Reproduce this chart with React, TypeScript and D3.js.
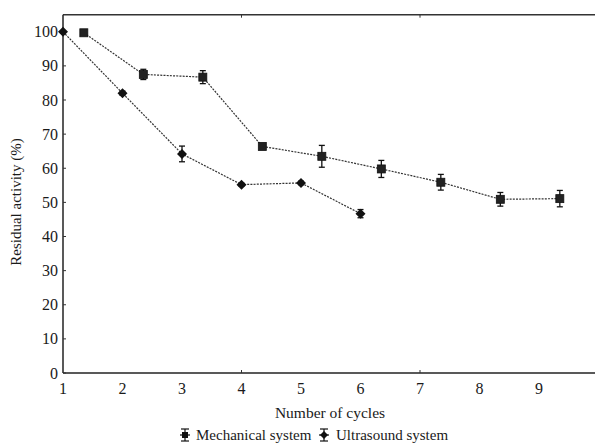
import React from "react";
import * as d3 from "d3";

const mechCycles = [1, 2, 3, 4, 5, 6, 7, 8, 9];
const mechValues = [99.7, 87.5, 86.7, 66.4, 63.5, 59.8, 55.9, 50.9, 51.1];
const mechErrors = [0.4, 1.5, 1.9, 0.6, 3.2, 2.5, 2.3, 2.0, 2.4];
const usCycles = [1, 2, 3, 4, 5, 6];
const usValues = [100, 82.0, 64.2, 55.2, 55.7, 46.7];
const usErrors = [0.3, 0.6, 2.3, 0.4, 0.5, 1.2];
const xTicks = [1, 2, 3, 4, 5, 6, 7, 8, 9];
const yTicks = [0, 10, 20, 30, 40, 50, 60, 70, 80, 90, 100];
const mechOffset = 0.35;

const W = 595;
const H = 444;
const FONT = "Liberation Serif, Times New Roman, Times, serif";

export default function App() {
  const x = d3.scaleLinear().domain([1, 10]).range([63, 598.5]);
  const y = d3.scaleLinear().domain([0, 105]).range([373, 14.7]);
  const line = d3
    .line<[number, number]>()
    .x((d) => x(d[0]))
    .y((d) => y(d[1]));

  const mech: [number, number][] = mechCycles.map((c, i) => [c + mechOffset, mechValues[i]]);
  const us: [number, number][] = usCycles.map((c, i) => [c, usValues[i]]);

  const errBar = (cx: number, v: number, e: number, key: string) => (
    <g key={key} stroke="#111" strokeWidth={1.3}>
      <line x1={x(cx)} x2={x(cx)} y1={y(v - e)} y2={y(v + e)} />
      <line x1={x(cx) - 3} x2={x(cx) + 3} y1={y(v - e)} y2={y(v - e)} />
      <line x1={x(cx) - 3} x2={x(cx) + 3} y1={y(v + e)} y2={y(v + e)} />
    </g>
  );

  const txt = { fontFamily: FONT, fill: "#1a1a1a" } as React.CSSProperties;

  return (
    <div style={{ position: "absolute", left: 0, top: 0 }}>
      <svg width={W} height={H} style={{ display: "block", background: "#fff", fontFamily: FONT }}>
        {/* axes */}
        <line x1={63} x2={W} y1={14.7} y2={14.7} stroke="#333" strokeWidth={1.5} />
        <line x1={63} x2={W} y1={373} y2={373} stroke="#222" strokeWidth={1.5} />
        <line x1={63} x2={63} y1={14.7} y2={373} stroke="#222" strokeWidth={1.5} />
        {yTicks.map((t) => (
          <g key={"y" + t}>
            <line x1={63} x2={66} y1={y(t)} y2={y(t)} stroke="#333" strokeWidth={1} />
            <text x={58} y={y(t)} dy="0.35em" textAnchor="end" style={{ ...txt, fontSize: 16 }}>
              {t}
            </text>
          </g>
        ))}
        {[4, 7].map((t) => (
          <g key={"xt" + t}>
            <line x1={x(t)} x2={x(t)} y1={373} y2={370} stroke="#333" strokeWidth={1} />
            <line x1={x(t)} x2={x(t)} y1={14.7} y2={17.7} stroke="#333" strokeWidth={1} />
          </g>
        ))}
        {xTicks.map((t) => (
          <text key={"x" + t} x={x(t)} y={394} textAnchor="middle" style={{ ...txt, fontSize: 16 }}>
            {t}
          </text>
        ))}
        <text x={330} y={418} textAnchor="middle" style={{ ...txt, fontSize: 15.5 }}>
          Number of cycles
        </text>
        <text transform={`translate(21,202) rotate(-90)`} textAnchor="middle" style={{ ...txt, fontSize: 15 }}>
          Residual activity (%)
        </text>

        {/* lines */}
        <path d={line(mech) || ""} fill="none" stroke="#333" strokeWidth={1.2} strokeDasharray="2,1.2" />
        <path d={line(us) || ""} fill="none" stroke="#333" strokeWidth={1.2} strokeDasharray="2,1.2" />

        {/* error bars */}
        {mech.map((d, i) => errBar(d[0], d[1], mechErrors[i], "me" + i))}
        {us.map((d, i) => errBar(d[0], d[1], usErrors[i], "ue" + i))}

        {/* markers */}
        {mech.map((d, i) => (
          <rect
            key={"m" + i}
            x={x(d[0]) - 4}
            y={y(d[1]) - 4}
            width={8}
            height={8}
            fill="#222"
            stroke="#111"
            strokeWidth={0.8}
          />
        ))}
        {us.map((d, i) => (
          <path
            key={"u" + i}
            d={`M${x(d[0])},${y(d[1]) - 5}L${x(d[0]) + 5},${y(d[1])}L${x(d[0])},${y(d[1]) + 5}L${x(d[0]) - 5},${y(d[1])}Z`}
            fill="#111"
          />
        ))}

        {/* legend */}
        <g stroke="#111" strokeWidth={1.2}>
          <line x1={185} x2={185} y1={429} y2={441} />
          <line x1={181} x2={189} y1={429} y2={429} />
          <line x1={181} x2={189} y1={441} y2={441} />
          <line x1={180} x2={190} y1={435} y2={435} />
        </g>
        <rect x={182} y={432} width={6} height={6} fill="#111" />
        <text x={196} y={440} style={{ ...txt, fontSize: 15 }}>
          Mechanical system
        </text>
        <g stroke="#111" strokeWidth={1.2}>
          <line x1={324} x2={324} y1={429} y2={441} />
          <line x1={320} x2={328} y1={429} y2={429} />
          <line x1={320} x2={328} y1={441} y2={441} />
          <line x1={319} x2={329} y1={435} y2={435} />
        </g>
        <path d="M324,431L328,435L324,439L320,435Z" fill="#111" />
        <text x={336} y={440} style={{ ...txt, fontSize: 15 }}>
          Ultrasound system
        </text>
      </svg>
    </div>
  );
}
